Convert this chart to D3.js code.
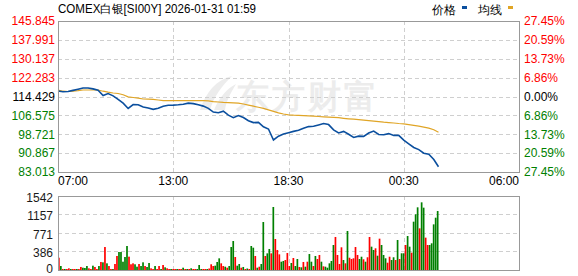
<!DOCTYPE html>
<html>
<head>
<meta charset="utf-8">
<script src="https://cdn.jsdelivr.net/npm/d3@7"></script>
<style>
  body { margin: 0; background: #fff; }
  svg { display: block; }
  text { font-family: "Liberation Sans", Arial, sans-serif; }
</style>
</head>
<body>
<svg id="chart"></svg>
<script>
const title = "COMEX白银[SI00Y] 2026-01-31 01:59";
const baseClose = 114.429;
const priceTicks = [145.845, 137.991, 130.137, 122.283, 114.429, 106.575, 98.721, 90.867, 83.013];
const pctLabels = ["27.45%", "20.59%", "13.73%", "6.86%", "0.00%", "6.86%", "13.73%", "20.59%", "27.45%"];
const volTicks = [1542, 1157, 771, 386, 0];
const timeLabels = ["07:00", "13:00", "18:30", "00:30", "06:00"];
const sessionMinutes = 1380;   // 07:00 -> 06:00
const lastMinute = 1139;       // 01:59

// price sampled every 15 minutes, last point = 01:59
const price = [
  116.72, 116.39, 116.51, 116.97, 117.47, 117.97, 117.97, 117.59, 117.01, 114.85,
  115.64, 114.68, 113.26, 111.68, 109.44, 111.10, 110.98, 110.06, 109.64, 109.10,
  109.52, 110.39, 110.77, 110.85, 110.98, 111.18, 111.68, 111.47, 111.02, 110.43,
  109.48, 107.94, 107.69, 108.31, 106.69, 105.61, 106.52, 105.69, 104.36, 103.57,
  103.65, 101.82, 100.91, 96.33, 97.91, 98.83, 99.37, 99.91, 100.36, 101.20,
  101.90, 102.03, 102.61, 103.19, 102.74, 100.57, 99.28, 99.91, 98.70, 97.41,
  97.95, 97.83, 99.24, 100.03, 98.62, 98.49, 98.99, 98.24, 98.24, 96.25,
  94.75, 93.21, 92.33, 90.84, 90.42, 88.21, 85.22
];
const avgPrice = [
  117.13, 116.63, 116.51, 116.68, 116.88, 117.13, 117.13, 117.13, 117.13, 116.63,
  116.22, 115.89, 115.68, 115.14, 114.26, 114.01, 113.76, 113.39, 113.35, 113.26,
  112.97, 112.68, 112.68, 112.68, 112.68, 112.68, 112.68, 112.68, 112.68, 112.68,
  112.60, 112.27, 112.14, 111.97, 111.89, 111.77, 111.64, 111.31, 110.85, 110.39,
  109.94, 109.48, 108.85, 108.23, 107.61, 107.15, 106.81, 106.65, 106.56, 106.44,
  106.36, 106.23, 106.11, 105.98, 105.86, 105.73, 105.61, 105.36, 105.15, 104.98,
  104.82, 104.61, 104.36, 104.15, 103.94, 103.73, 103.57, 103.40, 103.19, 103.03,
  102.74, 102.40, 102.07, 101.70, 101.28, 100.61, 99.53
];
const priceTimes = d3.range(0, lastMinute, 15).concat([lastMinute]);

// volume every 6 minutes, r = up bar, g = down bar
const volume = [
  256, 83, 21, 21, 21, 35, 21, 21, 21, 21,
  21, 63, 48, 42, 83, 35, 21, 90, 63, 21,
  83, 167, 160, 479, 139, 83, 21, 21, 125, 292,
  375, 375, 173, 271, 500, 278, 119, 139, 119, 69,
  125, 83, 160, 83, 63, 146, 35, 21, 83, 21,
  83, 21, 104, 56, 35, 21, 21, 21, 21, 21,
  21, 21, 48, 21, 21, 21, 35, 21, 21, 21,
  104, 21, 21, 21, 21, 31, 119, 83, 90, 167,
  243, 139, 83, 69, 48, 83, 479, 604, 271, 90,
  125, 48, 63, 21, 31, 21, 500, 465, 292, 48,
  69, 125, 1000, 292, 347, 438, 347, 1313, 646, 417,
  326, 173, 188, 208, 354, 83, 146, 250, 83, 229,
  63, 56, 167, 69, 173, 333, 173, 83, 292, 229,
  313, 173, 77, 69, 48, 139, 188, 521, 688, 313,
  125, 473, 208, 139, 813, 256, 229, 244, 479, 313,
  229, 277, 223, 173, 265, 688, 486, 417, 452, 298,
  653, 521, 313, 244, 152, 277, 208, 265, 208, 625,
  229, 348, 348, 521, 708, 486, 361, 1007, 1160, 1306,
  868, 1410, 1299, 674, 521, 521, 556, 951, 1090, 1229
];
const volDir = (
  "rgrgrrgrrg" + "rrgggrrgrr" + "grgrgrrgrr" + "gggggrrrgg" + "rggrggrrgr" +
  "rgrgrrgrrg" + "rrgrgrgrrg" + "ggrrgrrrgg" + "grrgrgggrg" + "grgrgrggrg" +
  "rggrggrgrr" + "rggrrrgrgg" + "rgrgrggrgr" + "rgrgggggrr" + "rrgrgrrrrr" +
  "ggrgrrggrg" + "rgggrrggrg" + "rggrggrggg" + "rggrrggggg"
).split("");
const volStep = 6;

const W = 578, H = 276;
const svg = d3.select("#chart").attr("width", W).attr("height", H);

const left = 58, right = 519;
const pTop = 21, pBottom = 172;
const vTop = 196, vBottom = 270;

const x = d3.scaleLinear().domain([0, sessionMinutes]).range([left, right]);
const y = d3.scaleLinear().domain([d3.min(priceTicks), d3.max(priceTicks)]).range([pBottom, pTop]);
const yv = d3.scaleLinear().domain([0, d3.max(volTicks)]).range([vBottom, vTop]);

const red = "#ff0000", green = "#008000", grid = "#cfcfcf", frame = "#999";
const quarters = d3.range(timeLabels.length).map(i => i * sessionMinutes / (timeLabels.length - 1));

// watermark
const wm = svg.append("g").attr("fill", "#ececec");
wm.append("path")
  .attr("d", "M200,110 C206,92 216,80 232,76 C222,86 214,96 210,110 Z M214,110 C220,96 228,88 236,84 C230,94 226,102 225,110 Z");
wm.append("text")
  .attr("x", 236).attr("y", 108)
  .attr("font-family", "'Noto Sans CJK SC', sans-serif")
  .attr("font-size", 33).attr("font-weight", "bold")
  .attr("letter-spacing", 3)
  .text("东方财富");

// title + legend
svg.append("text")
  .attr("x", left).attr("y", 13)
  .attr("font-family", "'Liberation Mono', 'Noto Sans CJK SC', monospace")
  .attr("font-size", 12)
  .attr("textLength", 198).attr("lengthAdjust", "spacingAndGlyphs")
  .attr("fill", "#000")
  .text(title);

const legend = [{name: "价格", color: "#0b4f9e", x: 432}, {name: "均线", color: "#e0a526", x: 478}];
legend.forEach(l => {
  svg.append("text").attr("x", l.x).attr("y", 14)
    .attr("font-family", "'Noto Sans CJK SC', sans-serif").attr("font-size", 11.5)
    .attr("fill", "#000").text(l.name);
  svg.append("rect").attr("x", l.x + 30).attr("y", 6).attr("width", 5).attr("height", 3).attr("fill", l.color);
});

// grid
const g = svg.append("g").attr("stroke", grid).attr("stroke-dasharray", "4,3").attr("shape-rendering", "crispEdges");
priceTicks.slice(1, -1).forEach(t => {
  g.append("line").attr("x1", left).attr("x2", right).attr("y1", Math.round(y(t)) + 0.5).attr("y2", Math.round(y(t)) + 0.5);
});
volTicks.slice(1, -1).forEach(t => {
  g.append("line").attr("x1", left).attr("x2", right).attr("y1", Math.round(yv(t)) + 0.5).attr("y2", Math.round(yv(t)) + 0.5);
});
quarters.slice(1, -1).forEach(m => {
  const xx = Math.round(x(m)) + 0.5;
  g.append("line").attr("x1", xx).attr("x2", xx).attr("y1", pTop).attr("y2", pBottom);
  g.append("line").attr("x1", xx).attr("x2", xx).attr("y1", vTop).attr("y2", vBottom);
});

// volume bars
const bw = x(volStep) - x(0);
svg.append("g")
  .selectAll("rect").data(volume).enter().append("rect")
  .attr("x", (d, i) => x(i * volStep))
  .attr("y", d => yv(d))
  .attr("width", bw - 0.3)
  .attr("height", d => yv(0) - yv(d))
  .attr("fill", (d, i) => volDir[i] === "r" ? red : green);

// price + average lines
const line = d3.line().x((d, i) => x(priceTimes[i])).y(d => y(d));
svg.append("path").datum(avgPrice).attr("d", line)
  .attr("fill", "none").attr("stroke", "#e0a526").attr("stroke-width", 1.2);
svg.append("path").datum(price).attr("d", line)
  .attr("fill", "none").attr("stroke", "#0b4f9e").attr("stroke-width", 1.6);

// frames
[[pTop, pBottom], [vTop, vBottom]].forEach(([t, b]) => {
  svg.append("rect").attr("x", left + 0.5).attr("y", t + 0.5)
    .attr("width", right - left).attr("height", b - t)
    .attr("fill", "none").attr("stroke", frame).attr("shape-rendering", "crispEdges");
});

// axis labels
const tickColor = v => v > baseClose ? red : (v < baseClose ? green : "#000");
svg.append("g").selectAll("text").data(priceTicks).enter().append("text")
  .attr("x", 55).attr("y", d => y(d)).attr("dy", "0.36em")
  .attr("text-anchor", "end").attr("font-size", 12)
  .attr("fill", tickColor).text(d => d.toFixed(3));
svg.append("g").selectAll("text").data(priceTicks).enter().append("text")
  .attr("x", 524).attr("y", d => y(d)).attr("dy", "0.36em")
  .attr("font-size", 12)
  .attr("fill", tickColor).text((d, i) => pctLabels[i]);
svg.append("g").selectAll("text").data(volTicks).enter().append("text")
  .attr("x", 53).attr("y", d => Math.min(yv(d) + 1.5, 269)).attr("dy", "0.36em")
  .attr("text-anchor", "end").attr("font-size", 12)
  .attr("fill", "#1a1a1a").text(d => d);
svg.append("g").selectAll("text").data(quarters).enter().append("text")
  .attr("x", d => x(d)).attr("y", 185)
  .attr("text-anchor", (d, i) => i === 0 ? "start" : (i === quarters.length - 1 ? "end" : "middle"))
  .attr("font-size", 12).attr("fill", "#000")
  .text((d, i) => timeLabels[i]);
</script>
</body>
</html>
